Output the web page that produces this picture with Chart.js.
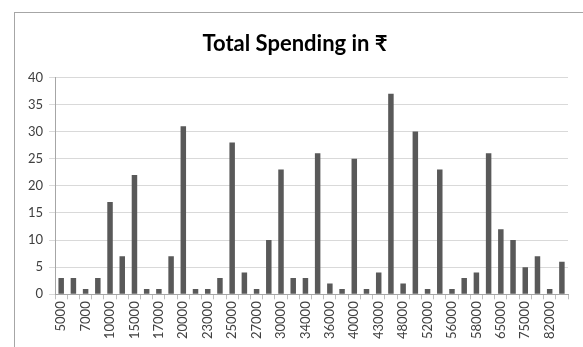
<!DOCTYPE html>
<html>
<head>
<meta charset="utf-8">
<script src="https://cdn.jsdelivr.net/npm/chart.js@4/dist/chart.umd.min.js"></script>
<style>
  html, body { margin: 0; padding: 0; background: #fff; overflow: hidden; }
  #wrap { position: relative; width: 583px; height: 347px; }
  #frame { position: absolute; left: 14px; top: 12px; width: 600px; height: 360px; border: 1px solid #a6a6a6; box-sizing: border-box; }
  canvas { position: absolute; left: 0; top: 0; }
</style>
</head>
<body>
<div id="wrap">
  <div id="frame"></div>
  <canvas id="myChart" width="583" height="347"></canvas>
</div>
<script>
var amounts = [
  '5000', '6000', '7000', '8000', '10000', '12000', '15000', '16000', '17000', '18000',
  '20000', '22000', '23000', '24000', '25000', '26000', '27000', '28000', '30000', '32000',
  '34000', '35000', '36000', '38000', '40000', '42000', '43000', '45000', '48000', '50000',
  '52000', '55000', '56000', '57000', '58000', '60000', '65000', '70000', '75000', '80000',
  '82000', '85000'
];
var counts = [
  3, 3, 1, 3, 17, 7, 22, 1, 1, 7,
  31, 1, 1, 3, 28, 4, 1, 10, 23, 3,
  3, 26, 2, 1, 25, 1, 4, 37, 2, 30,
  1, 23, 1, 3, 4, 26, 12, 10, 5, 7,
  1, 6
];
var yTicks = [0, 5, 10, 15, 20, 25, 30, 35, 40];

var tickFont = { family: "Lato, 'Open Sans', sans-serif", size: 13 };

var ctx = document.getElementById('myChart').getContext('2d');
var chart = new Chart(ctx, {
    type: 'bar',
    data: {
        labels: amounts,
        datasets: [{
            label: 'Total Spending',
            data: counts,
            backgroundColor: '#595959',
            borderWidth: 0,
            categoryPercentage: 1,
            barPercentage: 0.45
        }]
    },
    options: {
        responsive: false,
        animation: false,
        layout: { padding: { left: 22, right: 15, top: 8, bottom: 6 } },
        plugins: {
            legend: { display: false },
            tooltip: { enabled: false },
            title: {
                display: true,
                text: 'Total Spending in ₹',
                color: '#000',
                font: { family: "Lato, 'Noto Sans', sans-serif", size: 22, weight: 'bold' },
                padding: { top: 23, bottom: 20 }
            }
        },
        scales: {
            x: {
                grid: {
                    offset: true,
                    drawOnChartArea: false,
                    drawTicks: true,
                    tickLength: 5,
                    color: '#bfbfbf'
                },
                border: { color: '#a6a6a6' },
                ticks: {
                    autoSkip: false,
                    minRotation: 90,
                    maxRotation: 90,
                    color: '#404040',
                    font: tickFont,
                    padding: 2,
                    callback: function(value, index) {
                        return index % 2 === 0 ? amounts[index] : '';
                    }
                }
            },
            y: {
                min: 0,
                max: 40,
                afterBuildTicks: function(axis) {
                    axis.ticks = yTicks.map(function(v) { return { value: v }; });
                },
                grid: { color: '#d9d9d9', tickLength: 6 },
                border: { color: '#a6a6a6' },
                ticks: { color: '#404040', font: tickFont, padding: 6 }
            }
        }
    }
});
</script>
</body>
</html>
